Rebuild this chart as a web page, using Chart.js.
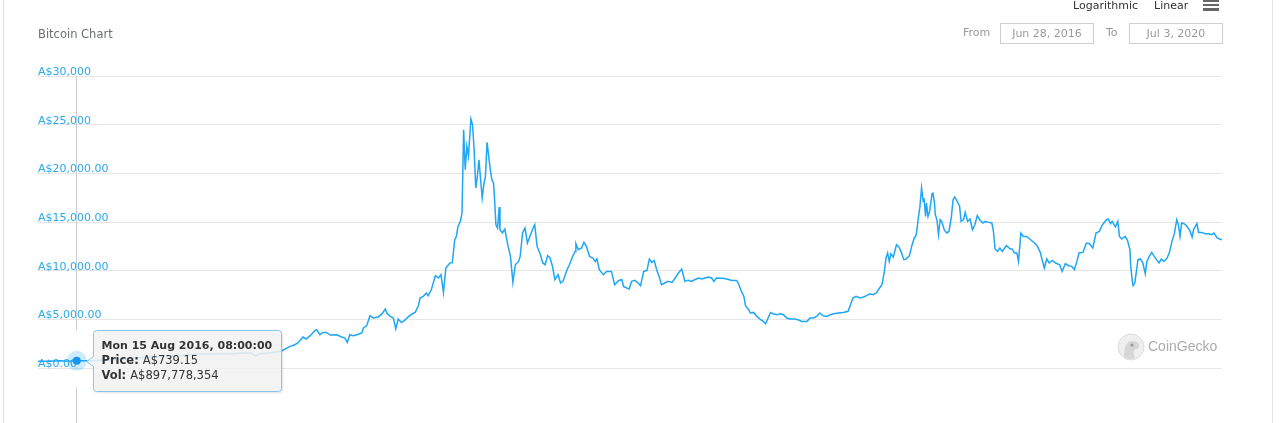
<!DOCTYPE html>
<html>
<head>
<meta charset="utf-8">
<script src="https://cdn.jsdelivr.net/npm/chart.js@4/dist/chart.umd.min.js"></script>
<style>
html,body{margin:0;padding:0;background:#fff;width:1288px;height:423px;overflow:hidden;}
#wrap{position:relative;width:1288px;height:423px;}
#c{position:absolute;left:0;top:0;}
.t{position:absolute;white-space:nowrap;font-family:'DejaVu Sans',sans-serif;}
.vl{position:absolute;top:0;width:1px;height:423px;background:#e4e4e4;}
.bar{position:absolute;left:1203px;width:16px;height:2px;background:#666;}
.box{position:absolute;top:23px;width:94px;height:21px;box-sizing:border-box;border:1px solid #cfcfcf;
     font-family:'DejaVu Sans',sans-serif;font-size:11px;line-height:19px;color:#9a9a9a;text-align:center;white-space:nowrap;}
</style>
</head>
<body>
<div id="wrap">
  <canvas id="c" width="1288" height="423"></canvas>
  <div class="vl" style="left:3px"></div>
  <div class="vl" style="left:1272px"></div>
  <div class="t" style="left:38px;top:27px;font-size:11.5px;line-height:14px;color:#6b6e72;">Bitcoin Chart</div>
  <div class="t" style="left:1073px;top:-1px;font-size:11px;line-height:13px;color:#333;">Logarithmic</div>
  <div class="t" style="left:1154px;top:-1px;font-size:11px;line-height:13px;color:#333;">Linear</div>
  <div class="bar" style="top:0px"></div>
  <div class="bar" style="top:4px"></div>
  <div class="bar" style="top:8px;height:2.5px"></div>
  <div class="t" style="left:963px;top:26px;font-size:11px;line-height:13px;color:#999;">From</div>
  <div class="box" style="left:1000px">Jun 28, 2016</div>
  <div class="t" style="left:1106px;top:26px;font-size:11px;line-height:13px;color:#999;">To</div>
  <div class="box" style="left:1129px">Jul 3, 2020</div>
  <svg style="position:absolute;left:1117px;top:333px" width="28" height="28" viewBox="0 0 28 28">
    <circle cx="14" cy="14" r="13" fill="#efefef" stroke="#dcdcdc" stroke-width="1"/>
    <path d="M7 24 C7 15 9 8 15 8 C20 8 23 11 22 14 C21 16 18 16 17 17 C16 19 17 22 18 25 C14 27 10 26 7 24 Z" fill="#d6d6d6"/>
    <circle cx="15" cy="12" r="1.6" fill="#9a9a9a"/>
  </svg>
  <div class="t" style="left:1148px;top:338px;font-family:'Liberation Sans',Arial,sans-serif;font-size:14px;line-height:16px;color:#acacac;">CoinGecko</div>
</div>
<script>
// Days since 28 Jun 2016 (last = 3 Jul 2020)
const days = [
  0,15,27,40,48,64,77,89,102,114,
  126,139,151,163,176,188,201,213,225,238,
  250,263,269,275,287,301,312,318,322,328,
  332,337,343,345,349,353,357,362,370,376,
  380,383,386,390,395,401,403,407,411,415,
  421,426,430,432,436,440,443,446,450,454,
  459,463,467,471,473,477,481,483,487,492,
  496,499,502,505,510,513,516,518,520,523,
  525,527,529,531,533,536,538,540,542,544,
  546,547,550,552,554,556,560,562,564,565,
  567,569,571,572,575,578,582,585,588,591,
  595,597,600,603,606,609,613,615,618,622,
  625,628,631,634,637,640,644,647,650,655,
  658,662,665,666,669,673,676,679,683,687,
  690,692,695,700,704,710,714,719,723,725,
  729,732,735,739,743,746,750,754,757,760,
  763,766,769,772,776,780,785,789,793,797,
  801,805,809,813,818,822,826,830,834,837,
  840,847,853,859,865,867,871,874,876,880,
  882,886,890,894,898,901,904,907,910,915,
  919,923,927,931,937,941,946,952,956,960,
  964,968,972,977,981,985,991,997,1003,1006,
  1009,1013,1018,1022,1026,1030,1034,1038,1042,1045,
  1048,1050,1052,1054,1056,1059,1063,1066,1069,1072,
  1075,1079,1082,1085,1087,1088,1090,1092,1094,1096,
  1097,1099,1100,1102,1104,1107,1108,1110,1111,1113,
  1115,1117,1119,1122,1125,1128,1131,1133,1135,1138,
  1141,1143,1146,1148,1151,1154,1157,1160,1163,1166,
  1170,1173,1177,1181,1183,1185,1188,1191,1194,1197,
  1199,1204,1206,1209,1212,1214,1217,1220,1224,1228,
  1233,1237,1241,1243,1246,1249,1252,1256,1260,1265,
  1268,1272,1276,1280,1283,1286,1289,1294,1298,1302,
  1306,1310,1314,1318,1323,1325,1328,1330,1334,1337,
  1339,1342,1346,1349,1352,1353,1355,1356,1358,1360,
  1362,1365,1368,1371,1373,1376,1379,1382,1385,1388,
  1391,1394,1398,1401,1404,1407,1410,1412,1414,1416,
  1419,1422,1426,1429,1431,1435,1437,1441,1445,1449,
  1453,1456,1460,1463,1466
];
// Price in AUD
const prices = [
  700,700,750,700,739.15,750,800,850,900,1010,
  1060,1110,1160,1210,1260,1370,1470,1420,1470,1470,
  1520,1570,1260,1470,1570,1730,2220,2390,2600,3180,
  2980,3320,3860,3930,3420,3660,3660,3390,3420,3180,
  3080,2630,3420,3320,3420,3600,4110,4350,5370,5140,
  5240,5580,6060,5650,5300,5140,4010,5030,4680,4890,
  5300,5550,5710,6400,7190,7360,7710,7430,8040,9480,
  9250,9590,7770,10270,10790,10820,13180,13520,14550,15060,
  15920,24480,20370,22770,21740,25580,25000,22430,18490,19690,
  21400,20370,17470,18830,19690,23180,20370,19350,19010,17800,
  14720,14380,16540,14210,13870,14280,12490,11470,8790,10610,
  10950,11470,13870,14380,12840,13520,14380,14720,12490,11640,
  10790,10610,11540,11300,10440,9070,9590,8730,8900,10100,
  10610,11470,11980,12770,12150,12330,12900,12490,11470,11300,
  10950,11200,10100,9590,9920,9920,8560,9000,9070,8380,
  8220,8120,8900,9000,8730,8460,9920,10030,11200,10850,
  11050,10100,9410,8560,8730,8900,8790,9250,9760,10170,
  8900,9000,8900,9070,9250,9140,9250,9350,9250,8900,
  9250,9210,9140,9000,9000,8730,7870,7360,6400,5990,
  5650,5710,5300,5030,4790,4550,5140,5710,5580,5480,
  5580,5480,5140,5030,5030,4960,4790,4790,5140,5140,
  5300,5650,5370,5300,5480,5580,5650,5710,5820,6500,
  7190,7360,7190,7290,7430,7630,7530,7710,8220,8560,
  9920,11300,11820,10950,11740,11400,12670,12430,11880,11130,
  11200,11540,12570,13360,13590,14030,15410,16600,18490,17120,
  17470,15580,16950,15580,16090,17910,18040,16950,15750,15240,
  13700,15240,15060,14210,13870,14030,15580,17290,17570,17120,
  16670,15060,15240,15990,15060,15310,14210,14720,15650,15240,
  14900,15060,14960,14900,14030,12230,11980,12330,11980,12330,
  12570,12230,12230,11820,11820,10950,13870,13520,13520,13250,
  12900,12570,11880,11200,10270,11200,10790,11050,10790,10610,
  9920,10720,10510,10440,10100,10850,11820,11880,12840,12770,
  12330,13870,14030,14720,15240,15310,14830,15060,14490,15060,
  13520,13250,13520,13110,12150,10440,8900,8460,8730,9920,
  11130,11200,10790,9690,10950,11470,11880,11470,11130,10790,
  11200,10950,11300,11880,13010,13800,15240,14720,13520,14900,
  14830,14620,14140,13460,14280,14830,13930,13930,13800,13800,
  13700,13870,13360,13250,13180
];
const tickValues = [0,5000,10000,15000,20000,25000,30000];
const tickLabels = ['A$0.00','A$5,000.00','A$10,000.00','A$15,000.00','A$20,000.00','A$25,000','A$30,000'];
const totalDays = 1466;
// Highlighted (hovered) point
const tipDay = 48;
const tipPrice = 739.15;
const tipTitle = 'Mon 15 Aug 2016, 08:00:00';
const tipPriceText = 'A$739.15';
const tipVolText = 'A$897,778,354';

const LINE = '#1fa6f4';

const tipPlugin = {
  id: 'fixedTip',
  beforeDatasetsDraw(chart) {
    const {ctx, scales: {x, y}} = chart;
    const px = Math.floor(x.getPixelForValue(tipDay)) + 0.5;
    const py = y.getPixelForValue(tipPrice);
    ctx.save();
    ctx.strokeStyle = '#cccccc';
    ctx.lineWidth = 1;
    ctx.beginPath();
    ctx.moveTo(px, chart.chartArea.top);
    ctx.lineTo(px, py - 31);
    ctx.moveTo(px, py + 27);
    ctx.lineTo(px, chart.height);
    ctx.stroke();
    ctx.restore();
  },
  afterDraw(chart) {
    const {ctx, scales: {x, y}} = chart;
    const px = x.getPixelForValue(tipDay);
    const py = y.getPixelForValue(tipPrice);
    ctx.save();
    // halo
    ctx.fillStyle = 'rgba(31,166,244,0.22)';
    ctx.beginPath(); ctx.arc(px, py, 10, 0, Math.PI * 2); ctx.fill();
    // point
    ctx.fillStyle = '#1596f0';
    ctx.beginPath(); ctx.arc(px, py, 4, 0, Math.PI * 2); ctx.fill();
    // tooltip box with callout
    const bx = Math.round(px) + 16.5, by = Math.round(py) - 30.5, w = 188, h = 61, r = 3;
    const cy = Math.round(py) + 0.5;
    ctx.beginPath();
    ctx.moveTo(bx + r, by);
    ctx.lineTo(bx + w - r, by);
    ctx.quadraticCurveTo(bx + w, by, bx + w, by + r);
    ctx.lineTo(bx + w, by + h - r);
    ctx.quadraticCurveTo(bx + w, by + h, bx + w - r, by + h);
    ctx.lineTo(bx + r, by + h);
    ctx.quadraticCurveTo(bx, by + h, bx, by + h - r);
    ctx.lineTo(bx, cy + 5);
    ctx.lineTo(bx - 7, cy);
    ctx.lineTo(bx, cy - 5);
    ctx.lineTo(bx, by + r);
    ctx.quadraticCurveTo(bx, by, bx + r, by);
    ctx.closePath();
    ctx.shadowColor = 'rgba(0,0,0,0.18)';
    ctx.shadowBlur = 3;
    ctx.shadowOffsetX = 1;
    ctx.shadowOffsetY = 1;
    ctx.fillStyle = 'rgba(247,247,247,0.85)';
    ctx.fill();
    ctx.shadowColor = 'transparent';
    ctx.strokeStyle = '#86c6ee';
    ctx.lineWidth = 1;
    ctx.stroke();
    // texts
    ctx.fillStyle = '#333333';
    ctx.textBaseline = 'middle';
    ctx.textAlign = 'left';
    const tx = bx + 8;
    ctx.font = 'bold 11px "DejaVu Sans", sans-serif';
    ctx.fillText(tipTitle, tx, py - 15);
    ctx.font = 'bold 11.5px "DejaVu Sans", sans-serif';
    const l1 = 'Price: ', l2 = 'Vol: ';
    ctx.fillText(l1, tx, py);
    const w1 = ctx.measureText(l1).width;
    ctx.fillText(l2, tx, py + 15);
    const w2 = ctx.measureText(l2).width;
    ctx.font = '11.5px "DejaVu Sans", sans-serif';
    ctx.fillText(tipPriceText, tx + w1, py);
    ctx.fillText(tipVolText, tx + w2, py + 15);
    ctx.restore();
  }
};

new Chart(document.getElementById('c'), {
  type: 'line',
  data: {
    datasets: [{
      data: days.map((d, i) => ({x: d, y: prices[i]})),
      borderColor: LINE,
      borderWidth: 1.5,
      pointRadius: 0,
      tension: 0,
      fill: false
    }]
  },
  options: {
    responsive: false,
    devicePixelRatio: 1,
    animation: false,
    events: [],
    layout: {padding: {left: 38, right: 66, top: 76, bottom: 55}},
    plugins: {legend: {display: false}, tooltip: {enabled: false}},
    scales: {
      x: {type: 'linear', min: 0, max: totalDays, display: false},
      y: {
        type: 'linear', min: 0, max: 30000,
        afterBuildTicks(scale) { scale.ticks = tickValues.map(v => ({value: v})); },
        border: {display: false},
        grid: {color: '#e6e6e6', lineWidth: 1, drawTicks: false},
        ticks: {
          mirror: true, padding: 0, labelOffset: -4,
          color: '#2ba9e8',
          font: {family: 'DejaVu Sans', size: 11},
          callback: (v) => tickLabels[tickValues.indexOf(v)]
        }
      }
    }
  },
  plugins: [tipPlugin]
});
</script>
</body>
</html>
